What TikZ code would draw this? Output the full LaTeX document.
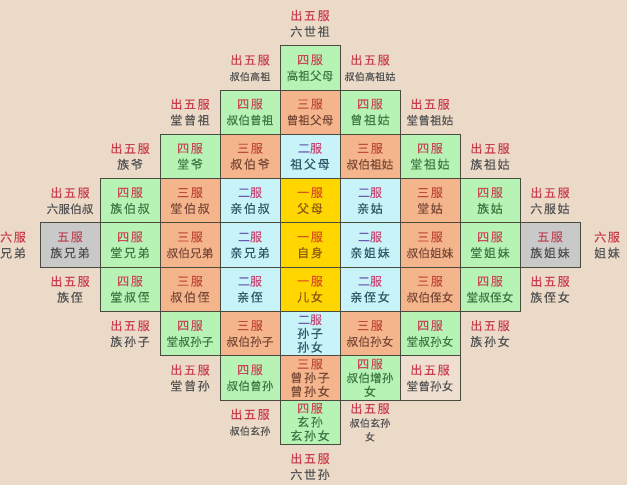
\documentclass[tikz,border=0pt]{standalone}
\usepackage{fontspec}
\setmainfont{Noto Sans CJK SC}[LetterSpace=14,FakeBold=0.3]
\newfontfamily\tightf{Noto Sans CJK SC}[LetterSpace=2,FakeBold=0.3]
\definecolor{bgc}{HTML}{ECDAC8}
\definecolor{gridc}{HTML}{4A4A3E}
\definecolor{gfill}{HTML}{B8F3B6}
\definecolor{ofill}{HTML}{F5B58C}
\definecolor{cfill}{HTML}{C8F3F8}
\definecolor{yfill}{HTML}{FFD600}
\definecolor{kfill}{HTML}{C9C9C9}
\definecolor{bfill}{HTML}{EFDFD0}
\definecolor{gtop}{HTML}{C84A58}
\definecolor{gnm}{HTML}{3F7A45}
\definecolor{otop}{HTML}{C04A38}
\definecolor{onm}{HTML}{7A4A38}
\definecolor{ctop}{HTML}{C84A78}
\definecolor{cpur}{HTML}{6A5AB0}
\definecolor{cnm}{HTML}{2E5A68}
\definecolor{ytop}{HTML}{D8501E}
\definecolor{ynm}{HTML}{8A5A12}
\definecolor{ktop}{HTML}{C04A5A}
\definecolor{knm}{HTML}{505050}
\definecolor{xtop}{HTML}{C83C4C}
\definecolor{xnm}{HTML}{555555}
\newcommand\ft[1]{{\tightf\fontsize{11.5}{16}\selectfont #1}}
\newcommand\fsm[1]{{\tightf\fontsize{10}{16}\selectfont #1}}
\newcommand\mkcell[3]{\leavevmode\textcolor{#1top}{#2}\\\textcolor{#1nm}{#3}}
\tikzset{
  cellbase/.style={rectangle, minimum width=60pt, minimum height=44.3pt, inner sep=0pt,
    draw=gridc, line width=0.8pt, align=center, text width=60pt,
    font=\fontsize{12}{16}\selectfont},
  gcell/.style={cellbase, fill=gfill},
  ocell/.style={cellbase, fill=ofill},
  ccell/.style={cellbase, fill=cfill},
  ycell/.style={cellbase, fill=yfill},
  kcell/.style={cellbase, fill=kfill},
  bcell/.style={cellbase, fill=bfill},
  outlbl/.style={rectangle, inner sep=0pt, align=center, text width=70pt,
    font=\fontsize{12}{16}\selectfont},
  three/.style={font=\fontsize{12}{13.8}\selectfont},
}
\begin{document}
\begin{tikzpicture}[x=1pt,y=-1pt]
\useasboundingbox (0,0) rectangle (627,485);
\fill[bgc] (0,0) rectangle (627,485);
% row -4
\node[gcell] (g04) at (310,67.8) {\mkcell{g}{四服}{\ft{高祖父母}}};
% row -3
\node[gcell] (m1m3) at (250,112.1) {\mkcell{g}{四服}{\ft{叔伯曾祖}}};
\node[ocell] (z0m3) at (310,112.1) {\mkcell{o}{三服}{\ft{曾祖父母}}};
\node[gcell] (p1m3) at (370,112.1) {\mkcell{g}{四服}{曾祖姑}};
% row -2
\node[gcell] (m2m2) at (190,156.4) {\mkcell{g}{四服}{堂爷}};
\node[ocell] (m1m2) at (250,156.4) {\mkcell{o}{三服}{叔伯爷}};
\node[ccell] (z0m2) at (310,156.4) {\mkcell{c}{\textcolor{cpur}{二}服}{祖父母}};
\node[ocell] (p1m2) at (370,156.4) {\mkcell{o}{三服}{\ft{叔伯祖姑}}};
\node[gcell] (p2m2) at (430,156.4) {\mkcell{g}{四服}{堂祖姑}};
% row -1
\node[gcell] (m3m1) at (130,200.7) {\mkcell{g}{四服}{族伯叔}};
\node[ocell] (m2m1) at (190,200.7) {\mkcell{o}{三服}{堂伯叔}};
\node[ccell] (m1m1) at (250,200.7) {\mkcell{c}{\textcolor{cpur}{二}服}{亲伯叔}};
\node[ycell] (z0m1) at (310,200.7) {\mkcell{y}{一服}{父母}};
\node[ccell] (p1m1) at (370,200.7) {\mkcell{c}{\textcolor{cpur}{二}服}{亲姑}};
\node[ocell] (p2m1) at (430,200.7) {\mkcell{o}{三服}{堂姑}};
\node[gcell] (p3m1) at (490,200.7) {\mkcell{g}{四服}{族姑}};
% row 0
\node[kcell] (m4z0) at (70,245) {\mkcell{k}{五服}{族兄弟}};
\node[gcell] (m3z0) at (130,245) {\mkcell{g}{四服}{堂兄弟}};
\node[ocell] (m2z0) at (190,245) {\mkcell{o}{三服}{\ft{叔伯兄弟}}};
\node[ccell] (m1z0) at (250,245) {\mkcell{c}{\textcolor{cpur}{二}服}{亲兄弟}};
\node[ycell] (z0z0) at (310,245) {\mkcell{y}{一服}{自身}};
\node[ccell] (p1z0) at (370,245) {\mkcell{c}{\textcolor{cpur}{二}服}{亲姐妹}};
\node[ocell] (p2z0) at (430,245) {\mkcell{o}{三服}{\ft{叔伯姐妹}}};
\node[gcell] (p3z0) at (490,245) {\mkcell{g}{四服}{堂姐妹}};
\node[kcell] (p4z0) at (550,245) {\mkcell{k}{五服}{族姐妹}};
% row 1
\node[gcell] (m3p1) at (130,289.3) {\mkcell{g}{四服}{堂叔侄}};
\node[ocell] (m2p1) at (190,289.3) {\mkcell{o}{三服}{叔伯侄}};
\node[ccell] (m1p1) at (250,289.3) {\mkcell{c}{\textcolor{cpur}{二}服}{亲侄}};
\node[ycell] (z0p1) at (310,289.3) {\mkcell{y}{一服}{儿女}};
\node[ccell] (p1p1) at (370,289.3) {\mkcell{c}{\textcolor{cpur}{二}服}{亲侄女}};
\node[ocell] (p2p1) at (430,289.3) {\mkcell{o}{三服}{\ft{叔伯侄女}}};
\node[gcell] (p3p1) at (490,289.3) {\mkcell{g}{四服}{\ft{堂叔侄女}}};
% row 2
\node[gcell] (m2p2) at (190,333.6) {\mkcell{g}{四服}{\ft{堂叔孙子}}};
\node[ocell] (m1p2) at (250,333.6) {\mkcell{o}{三服}{\ft{叔伯孙子}}};
\node[ccell,three] (z0p2) at (310,333.6) {\mkcell{c}{\textcolor{cpur}{二}服}{孙子\\孙女}};
\node[ocell] (p1p2) at (370,333.6) {\mkcell{o}{三服}{\ft{叔伯孙女}}};
\node[gcell] (p2p2) at (430,333.6) {\mkcell{g}{四服}{\ft{堂叔孙女}}};
% row 3
\node[gcell] (m1p3) at (250,377.9) {\mkcell{g}{四服}{\ft{叔伯曾孙}}};
\node[ocell,three] (z0p3) at (310,377.9) {\mkcell{o}{三服}{曾孙子\\曾孙女}};
\node[gcell,three] (p1p3) at (370,377.9) {\mkcell{g}{四服}{\ft{叔伯增孙}\\女}};
\node[bcell] (p2p3) at (430,377.9) {\mkcell{x}{出五服}{\ft{堂曾孙女}}};
% row 4
\node[gcell,three] (z0p4) at (310,422.2) {\mkcell{g}{四服}{玄孙\\玄孙女}};
% outside labels
\node[outlbl] (o0m5) at (310,23.5) {\mkcell{x}{出五服}{六世祖}};
\node[outlbl] (om1m4) at (250,67.8) {\mkcell{x}{出五服}{\fsm{叔伯高祖}}};
\node[outlbl] (op1m4) at (370,67.8) {\mkcell{x}{出五服}{\fsm{叔伯高祖姑}}};
\node[outlbl] (om2m3) at (190,112.1) {\mkcell{x}{出五服}{堂曾祖}};
\node[outlbl] (op2m3) at (430,112.1) {\mkcell{x}{出五服}{\ft{堂曾祖姑}}};
\node[outlbl] (om3m2) at (130,156.4) {\mkcell{x}{出五服}{族爷}};
\node[outlbl] (op3m2) at (490,156.4) {\mkcell{x}{出五服}{族祖姑}};
\node[outlbl] (om4m1) at (70,200.7) {\mkcell{x}{出五服}{\ft{六服伯叔}}};
\node[outlbl] (op4m1) at (550,200.7) {\mkcell{x}{出五服}{六服姑}};
\node[outlbl] (om5z0) at (13,245) {\mkcell{x}{六服}{兄弟}};
\node[outlbl] (op5z0) at (607,245) {\mkcell{x}{六服}{姐妹}};
\node[outlbl] (om4p1) at (70,289.3) {\mkcell{x}{出五服}{族侄}};
\node[outlbl] (op4p1) at (550,289.3) {\mkcell{x}{出五服}{族侄女}};
\node[outlbl] (om3p2) at (130,333.6) {\mkcell{x}{出五服}{族孙子}};
\node[outlbl] (op3p2) at (490,333.6) {\mkcell{x}{出五服}{族孙女}};
\node[outlbl] (om2p3) at (190,377.9) {\mkcell{x}{出五服}{堂曾孙}};
\node[outlbl] (om1p4) at (250,422.2) {\mkcell{x}{出五服}{\fsm{叔伯玄孙}}};
\node[outlbl,three] (op1p4) at (370,422.2) {\mkcell{x}{出五服}{\fsm{叔伯玄孙}\\\fsm{女}}};
\node[outlbl] (o0p5) at (310,466.5) {\mkcell{x}{出五服}{六世孙}};
\end{tikzpicture}
\end{document}
